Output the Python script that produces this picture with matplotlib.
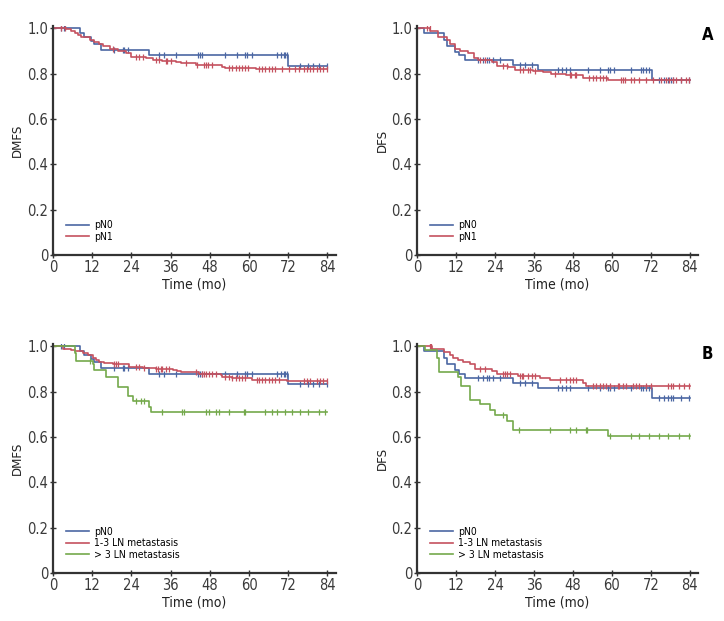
import numpy as np
import matplotlib.pyplot as plt

plt.rcParams['font.family'] = ['DejaVu Sans']
plt.rcParams['font.stretch'] = 'condensed'

BLUE = '#4b67a3'
RED = '#c5515f'
GREEN = '#74a94c'

# ---- pN0 (same group in A and B) ----
pn0_dmfs_t = [8.4, 9.6, 11.7, 12.7, 14.7, 29.3, 71.9]
pn0_dmfs_s = [0.98, 0.96, 0.945, 0.93, 0.905, 0.88, 0.833]
pn0_dmfs_c = [2.5, 3.5, 18.8, 21.3, 21.8, 22.9, 32.3, 34.0, 37.6, 44.5, 45.0, 45.5,
              52.8, 56.4, 58.9, 59.4, 60.9, 68.6, 69.9, 70.6, 71.1, 71.7,
              75.7, 78.2, 79.7, 81.3, 83.8]

pn0_dfs_t = [2.0, 8.2, 9.2, 11.8, 12.8, 14.8, 29.4, 37.3, 72.3]
pn0_dfs_s = [0.98, 0.95, 0.92, 0.895, 0.88, 0.86, 0.84, 0.815, 0.77]
pn0_dfs_c = [18.9, 20.4, 21.5, 22.3, 23.3, 25.5, 31.7, 33.2, 35.3, 43.4, 44.5,
             46.0, 47.0, 52.6, 56.2, 58.8, 59.3, 60.8, 65.9, 69.0, 69.7, 70.5,
             71.5, 74.6, 76.1, 77.2, 78.2, 78.9, 81.2, 83.8]

# ---- pN1 ----
pn1_dmfs_t = [4.1, 5.6, 6.6, 7.6, 8.6, 11.2, 12.7, 14.2, 15.2, 17.3, 19.8, 22.3,
              23.9, 28.4, 30.5, 33.5, 37.6, 39.1, 43.7, 51.8, 52.8, 62.0]
pn1_dmfs_s = [0.995, 0.99, 0.98, 0.97, 0.96, 0.95, 0.94, 0.93, 0.92, 0.91, 0.90,
              0.89, 0.875, 0.87, 0.86, 0.855, 0.85, 0.845, 0.84, 0.83, 0.825, 0.82]
pn1_dmfs_c = [2.5, 3.6, 18.3, 25.4, 26.4, 27.4, 31.5, 32.5, 34.5, 35.0, 36.1, 40.6,
              44.2, 46.2, 46.7, 47.5, 48.8, 53.8, 54.8, 55.9, 56.9, 57.9, 58.9,
              59.7, 63.0, 64.0, 65.0, 66.0, 67.0, 68.1, 70.1, 72.1, 74.1, 75.2,
              76.7, 77.7, 78.7, 79.7, 80.8, 81.8, 82.8, 83.8]

pn1_dfs_t = [4.1, 6.6, 9.2, 10.2, 11.8, 13.3, 15.8, 17.4, 18.9, 23.0, 24.5, 28.1,
             30.1, 35.8, 38.8, 41.4, 46.0, 51.1, 58.8]
pn1_dfs_s = [0.99, 0.96, 0.95, 0.93, 0.91, 0.90, 0.89, 0.87, 0.86, 0.85, 0.835,
             0.83, 0.815, 0.81, 0.805, 0.80, 0.795, 0.78, 0.773]
pn1_dfs_c = [3.1, 3.9, 19.4, 20.9, 26.6, 27.6, 31.7, 32.7, 34.2, 34.7, 36.3, 42.4,
             47.0, 47.5, 48.5, 49.1, 53.1, 54.2, 55.2, 56.2, 57.2, 58.2, 62.8,
             63.4, 63.9, 65.9, 66.9, 68.5, 70.5, 72.6, 75.1, 76.6, 77.7, 78.7,
             79.7, 81.2, 82.8, 83.8]

# ---- 1-3 LN metastasis ----
ln13_dmfs_t = [3.0, 5.6, 6.6, 9.1, 10.6, 12.2, 13.2, 14.2, 15.7, 18.3, 23.4, 27.4,
               31.5, 36.6, 38.1, 39.1, 44.7, 51.3, 51.8, 54.8, 60.9, 71.6]
ln13_dmfs_s = [0.99, 0.985, 0.98, 0.97, 0.96, 0.95, 0.94, 0.93, 0.925, 0.92, 0.91,
               0.905, 0.90, 0.895, 0.89, 0.885, 0.88, 0.875, 0.866, 0.86, 0.852, 0.849]
ln13_dmfs_c = [18.8, 19.3, 19.8, 25.4, 26.4, 27.9, 31.5, 32.0, 33.0, 33.5, 34.5,
               35.5, 43.7, 45.7, 46.2, 46.7, 47.7, 48.8, 49.8, 52.8, 53.8, 54.8,
               55.9, 56.9, 57.9, 58.9, 62.5, 63.0, 64.0, 65.0, 66.0, 67.0, 68.1,
               69.1, 76.7, 77.7, 78.7, 80.8, 81.8, 82.8, 83.8]

ln13_dfs_t = [4.6, 8.4, 10.2, 11.2, 12.5, 14.3, 16.4, 17.9, 23.0, 24.5, 31.2,
              37.8, 40.9, 51.1, 52.1]
ln13_dfs_s = [0.99, 0.975, 0.96, 0.95, 0.94, 0.93, 0.92, 0.90, 0.89, 0.88, 0.87,
              0.86, 0.85, 0.84, 0.827]
ln13_dfs_c = [3.9, 4.3, 19.4, 20.9, 26.6, 27.1, 27.6, 28.6, 31.7, 32.2, 32.7, 34.2,
              35.3, 36.3, 43.9, 46.0, 47.0, 48.0, 49.0, 54.2, 55.2, 56.2, 57.2,
              58.2, 59.3, 61.8, 62.3, 63.4, 64.4, 66.4, 67.4, 68.5, 70.5, 72.0,
              77.2, 78.2, 78.7, 80.7, 82.3, 83.8]

# ---- > 3 LN metastasis ----
ln3_dmfs_t = [6.6, 7.1, 12.2, 12.7, 16.3, 19.8, 22.9, 24.4, 29.5, 30.0]
ln3_dmfs_s = [0.97, 0.935, 0.92, 0.895, 0.865, 0.82, 0.78, 0.758, 0.734, 0.711]
ln3_dmfs_c = [11.2, 25.4, 26.9, 27.9, 33.5, 39.4, 40.1, 46.7, 47.7, 49.8, 50.8,
              53.8, 58.4, 58.9, 65.0, 67.0, 68.6, 71.1, 73.1, 75.7, 78.2, 81.3, 83.3]

ln3_dfs_t = [2.6, 6.1, 6.8, 12.5, 13.5, 16.4, 19.4, 22.5, 24.0, 27.6, 29.6, 58.8]
ln3_dfs_s = [0.985, 0.95, 0.888, 0.866, 0.827, 0.765, 0.744, 0.718, 0.696, 0.672,
             0.632, 0.603]
ln3_dfs_c = [26.6, 31.5, 40.9, 47.0, 49.0, 51.9, 52.3, 59.3, 65.9, 68.5, 71.5,
             74.6, 77.2, 80.7, 83.8]


def km(ax, t, s, c, color, label, end=84):
    t = np.asarray(t, float)
    s = np.asarray(s, float)
    xs = np.concatenate([[0], t, [end]])
    ys = np.concatenate([[1.0], s, [s[-1]]])
    ax.step(xs, ys, where='post', color=color, lw=1.2, label=label)
    c = np.asarray(c, float)
    idx = np.searchsorted(t, c, side='right')
    cs = np.concatenate([[1.0], s])[idx]
    ax.plot(c, cs, ls='none', marker='|', ms=4.5, mew=0.9, color=color)


def style(ax, ylab):
    ax.set_xlim(0, 86.5)
    ax.set_ylim(0, 1.01)
    ax.set_xticks(range(0, 85, 12))
    ax.set_yticks([0, 0.2, 0.4, 0.6, 0.8, 1.0])
    ax.set_yticklabels(['0', '0.2', '0.4', '0.6', '0.8', '1.0'])
    for sp in ['top', 'right']:
        ax.spines[sp].set_visible(False)
    for sp in ['left', 'bottom']:
        ax.spines[sp].set_linewidth(1.6)
        ax.spines[sp].set_color('#333333')
    ax.tick_params(direction='inout', length=5, width=1.0, color='#333333',
                   labelsize=10.5, labelcolor='#3a3a3a', pad=1)
    ax.set_xlabel('Time (mo)', fontsize=10, color='#222222', labelpad=2)
    ax.set_ylabel(ylab, fontsize=9.5, color='#222222', labelpad=2)
    ax.legend(loc='lower left', bbox_to_anchor=(0.02, 0.025), frameon=False,
              fontsize=7.5, handlelength=2.2, handletextpad=0.5,
              labelspacing=0.15, borderaxespad=0.3)


fig = plt.figure(figsize=(7.24, 6.21), dpi=100)
axA1 = fig.add_axes([0.0732, 0.5894, 0.3903, 0.3687])
axA2 = fig.add_axes([0.5760, 0.5894, 0.3880, 0.3687])
axB1 = fig.add_axes([0.0732, 0.0773, 0.3903, 0.3687])
axB2 = fig.add_axes([0.5760, 0.0773, 0.3880, 0.3687])

km(axA1, pn0_dmfs_t, pn0_dmfs_s, pn0_dmfs_c, BLUE, 'pN0')
km(axA1, pn1_dmfs_t, pn1_dmfs_s, pn1_dmfs_c, RED, 'pN1')
style(axA1, 'DMFS')

km(axA2, pn0_dfs_t, pn0_dfs_s, pn0_dfs_c, BLUE, 'pN0')
km(axA2, pn1_dfs_t, pn1_dfs_s, pn1_dfs_c, RED, 'pN1')
style(axA2, 'DFS')

km(axB1, pn0_dmfs_t, pn0_dmfs_s, pn0_dmfs_c, BLUE, 'pN0')
km(axB1, ln13_dmfs_t, ln13_dmfs_s, ln13_dmfs_c, RED, '1-3 LN metastasis')
km(axB1, ln3_dmfs_t, ln3_dmfs_s, ln3_dmfs_c, GREEN, '> 3 LN metastasis')
style(axB1, 'DMFS')

km(axB2, pn0_dfs_t, pn0_dfs_s, pn0_dfs_c, BLUE, 'pN0')
km(axB2, ln13_dfs_t, ln13_dfs_s, ln13_dfs_c, RED, '1-3 LN metastasis')
km(axB2, ln3_dfs_t, ln3_dfs_s, ln3_dfs_c, GREEN, '> 3 LN metastasis')
style(axB2, 'DFS')

fig.text(0.977, 0.944, 'A', fontsize=12, fontweight='bold', ha='center', va='center')
fig.text(0.977, 0.430, 'B', fontsize=12, fontweight='bold', ha='center', va='center')

fig.savefig('out.png', dpi=100)
